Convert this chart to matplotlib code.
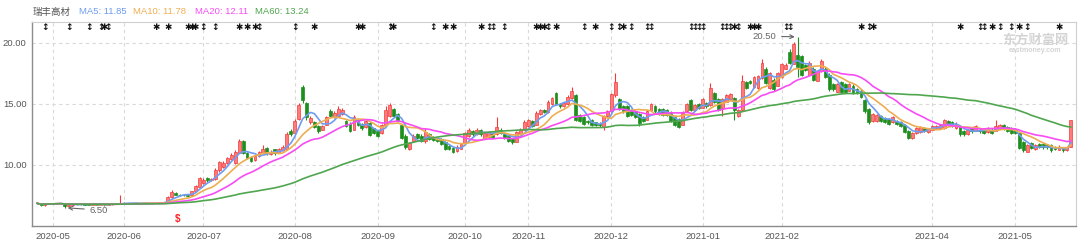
import numpy as np
import pandas as pd
import matplotlib
matplotlib.use("Agg")
import matplotlib.pyplot as plt
import matplotlib.transforms as mtransforms

plt.rcParams['font.family'] = ['Liberation Sans', 'Noto Sans CJK SC', 'DejaVu Sans']

STOCK_NAME = "瑞丰高材"
MA_WINDOWS = [5, 10, 20, 60]
MA_VALUES = ["11.85", "11.78", "12.11", "13.24"]
MA_COLORS = ['#6F9CF2', '#EDAE52', '#F74CF4', '#4FA64F']

HOLIDAYS = ['2020-05-01', '2020-05-04', '2020-05-05', '2020-06-25', '2020-06-26',
            '2020-10-01', '2020-10-02', '2020-10-05', '2020-10-06', '2020-10-07',
            '2020-10-08', '2021-01-01', '2021-02-11', '2021-02-12', '2021-02-15',
            '2021-02-16', '2021-02-17', '2021-04-05', '2021-05-03', '2021-05-04',
            '2021-05-05']

OPEN = [6.90, 6.86, 6.72, 6.82, 6.86, 6.84, 6.88, 6.84, 6.64, 6.72,
        6.80, 6.78, 6.82, 6.76, 6.74, 6.78, 6.74, 6.76, 6.72, 6.78,
        6.82, 6.86, 6.90, 6.86, 6.88, 6.86, 6.90, 6.88, 6.90, 6.86,
        6.88, 6.90, 6.92, 6.95, 7.38, 7.72, 7.58, 7.55, 7.50, 7.50,
        7.85, 8.20, 8.55, 8.90, 8.75, 8.85, 9.55, 9.85, 10.15, 10.50,
        10.20, 11.00, 11.95, 11.00, 10.65, 10.40, 10.70, 11.00, 11.40, 10.90,
        11.30, 11.00, 11.20, 11.30, 12.80, 12.60, 13.80, 16.40, 15.10, 13.55,
        13.50, 13.20, 12.90, 13.30, 14.40, 13.90, 14.00, 14.20, 13.60, 13.40,
        12.90, 13.70, 13.35, 13.10, 13.45, 13.00, 12.80, 12.60, 13.30, 14.00,
        14.60, 14.20, 13.30, 12.40, 11.30, 12.00, 12.50, 12.40, 12.00, 12.50,
        12.30, 12.15, 12.10, 11.90, 11.55, 11.40, 11.15, 11.35, 11.80, 12.40,
        12.80, 12.50, 12.90, 12.20, 12.30, 12.60, 12.50, 12.90, 12.50, 12.40,
        12.10, 11.90, 12.50, 12.90, 13.20, 13.60, 13.30, 14.20, 14.50, 14.35,
        15.00, 15.90, 15.00, 14.80, 15.00, 15.50, 15.70, 14.10, 13.95, 13.60,
        13.70, 13.50, 13.40, 13.10, 14.00, 14.40, 15.70, 15.40, 14.80, 14.80,
        14.50, 14.40, 14.20, 13.95, 13.70, 14.50, 14.80, 14.60, 14.60, 14.50,
        14.30, 13.90, 13.80, 13.30, 14.40, 15.30, 14.50, 15.00, 14.70, 15.10,
        14.90, 15.90, 15.40, 14.70, 15.20, 15.40, 15.45, 14.00, 14.50, 16.80,
        16.90, 16.40, 16.30, 17.10, 17.90, 16.30, 17.00, 16.50, 17.20, 17.90,
        19.30, 18.30, 19.00, 18.90, 18.20, 17.40, 17.90, 16.90, 17.70, 17.90,
        17.40, 16.60, 16.00, 16.80, 16.60, 16.10, 16.50, 16.20, 16.10, 15.30,
        14.60, 13.60, 13.60, 14.00, 13.80, 13.75, 13.50, 13.60, 13.50, 13.30,
        12.75, 12.20, 12.60, 12.70, 13.00, 12.70, 12.90, 13.00, 13.00, 13.00,
        13.60, 13.50, 13.00, 13.20, 12.80, 12.50, 13.00, 12.80, 12.90, 12.90,
        12.70, 12.90, 12.80, 13.00, 13.30, 13.10, 13.00, 12.90, 12.60, 11.90,
        11.10, 11.80, 11.30, 11.70, 11.70, 11.60, 11.60, 11.45, 11.25, 11.40,
        11.20, 11.50]

CLOSE = [6.86, 6.70, 6.82, 6.86, 6.84, 6.88, 6.85, 6.62, 6.72, 6.80,
         6.78, 6.82, 6.76, 6.74, 6.78, 6.74, 6.76, 6.72, 6.78, 6.82,
         6.86, 6.92, 6.86, 6.88, 6.86, 6.90, 6.88, 6.90, 6.86, 6.88,
         6.90, 6.92, 6.95, 7.35, 7.80, 7.58, 7.52, 7.50, 7.48, 7.85,
         8.25, 8.95, 8.80, 8.75, 8.85, 9.55, 10.25, 10.15, 10.55, 10.85,
         11.10, 12.00, 10.95, 10.60, 10.35, 10.75, 11.05, 11.30, 10.95, 11.10,
         10.95, 11.30, 11.50, 12.50, 12.55, 13.60, 14.90, 15.30, 13.90, 13.85,
         13.10, 12.80, 13.20, 13.90, 14.00, 14.30, 14.60, 14.50, 13.20, 12.80,
         13.95, 13.30, 13.00, 13.60, 12.45, 12.60, 12.40, 13.30, 14.50, 14.90,
         14.00, 13.60, 12.20, 11.50, 11.80, 12.40, 12.20, 12.00, 12.70, 12.15,
         12.05, 11.95, 11.75, 11.35, 11.30, 11.05, 11.50, 11.70, 12.60, 12.90,
         12.50, 12.90, 12.50, 12.60, 12.70, 12.30, 13.10, 12.60, 12.20, 11.95,
         11.85, 12.70, 12.90, 13.55, 13.70, 13.20, 14.30, 14.50, 14.35, 15.20,
         15.50, 15.00, 14.80, 15.10, 15.60, 16.10, 13.70, 13.60, 13.40, 13.50,
         13.30, 13.30, 13.25, 14.00, 14.40, 15.80, 16.80, 14.60, 14.40, 14.00,
         14.10, 13.95, 13.45, 13.60, 14.40, 15.00, 14.40, 14.20, 14.10, 14.10,
         13.60, 13.30, 13.15, 14.30, 15.00, 14.50, 14.90, 14.70, 15.40, 14.80,
         16.30, 15.20, 14.50, 15.40, 15.70, 15.80, 14.50, 14.50, 16.90, 16.30,
         16.70, 17.20, 17.30, 18.40, 16.70, 17.50, 16.20, 17.50, 18.30, 18.20,
         18.40, 19.90, 18.00, 17.40, 17.80, 18.40, 17.00, 17.70, 18.50, 17.20,
         16.20, 16.20, 16.60, 16.00, 16.00, 16.60, 15.90, 15.90, 15.60, 14.40,
         13.50, 14.20, 14.10, 13.60, 13.55, 13.40, 13.90, 13.35, 13.20, 12.70,
         12.20, 12.60, 13.00, 13.10, 12.80, 12.95, 13.20, 13.20, 13.25, 13.70,
         13.30, 13.20, 13.40, 12.50, 12.50, 12.85, 12.75, 13.20, 12.75, 12.60,
         13.00, 12.60, 13.20, 13.30, 13.00, 12.80, 12.60, 12.60, 11.40, 11.20,
         11.60, 11.40, 11.60, 11.50, 11.45, 11.45, 11.20, 11.35, 11.50, 11.20,
         11.45, 13.70]

HIGH = [6.93, 6.88, 6.85, 6.90, 6.90, 6.92, 6.90, 6.86, 6.76, 6.83,
        6.84, 6.85, 6.84, 6.79, 6.81, 6.80, 6.79, 6.78, 6.80, 6.85,
        6.89, 7.55, 6.95, 6.91, 6.90, 6.93, 6.92, 6.93, 6.92, 6.91,
        6.93, 6.95, 6.99, 7.42, 7.95, 7.78, 7.62, 7.60, 7.56, 7.90,
        8.35, 9.05, 8.95, 9.00, 8.95, 9.75, 10.35, 10.30, 10.65, 10.95,
        11.20, 12.15, 12.05, 11.10, 10.70, 10.85, 11.15, 11.60, 11.45, 11.20,
        11.35, 11.40, 11.60, 12.70, 12.95, 13.75, 15.10, 16.55, 15.20, 14.00,
        13.60, 13.30, 13.30, 14.05, 14.55, 14.40, 14.80, 14.65, 13.70, 13.50,
        14.10, 13.80, 13.45, 13.70, 13.50, 13.05, 12.85, 13.40, 14.80, 15.10,
        14.70, 14.30, 13.40, 12.50, 11.90, 12.50, 12.60, 12.50, 13.00, 12.60,
        12.40, 12.25, 12.20, 12.00, 11.65, 11.50, 11.60, 11.80, 12.70, 13.00,
        12.90, 13.00, 12.95, 12.70, 12.80, 12.70, 13.90, 13.00, 12.60, 12.45,
        12.20, 12.80, 13.00, 13.65, 13.80, 13.70, 14.40, 14.60, 14.60, 15.30,
        15.60, 16.00, 15.10, 15.20, 15.70, 16.40, 15.80, 14.20, 14.00, 13.70,
        13.75, 13.55, 13.50, 14.10, 14.50, 15.90, 17.50, 15.50, 14.90, 14.90,
        14.60, 14.50, 14.30, 14.00, 14.50, 15.10, 14.90, 14.70, 14.65, 14.60,
        14.40, 14.00, 13.85, 14.40, 15.10, 15.40, 15.00, 15.10, 15.50, 15.20,
        16.70, 16.00, 15.50, 15.50, 15.80, 15.90, 15.55, 14.60, 17.40, 16.90,
        17.00, 17.30, 17.40, 18.70, 18.00, 17.60, 17.10, 17.60, 18.40, 18.35,
        19.50, 20.10, 20.50, 19.00, 18.30, 18.50, 18.00, 17.80, 18.70, 18.00,
        17.50, 16.70, 16.70, 16.90, 16.70, 16.70, 16.60, 16.30, 16.20, 15.40,
        14.70, 14.30, 14.20, 14.10, 13.90, 13.85, 14.00, 13.70, 13.60, 13.40,
        12.85, 12.70, 13.10, 13.20, 13.10, 13.05, 13.30, 13.30, 13.35, 13.80,
        13.70, 13.60, 13.50, 13.30, 12.90, 12.95, 13.10, 13.30, 13.00, 13.00,
        13.10, 13.00, 13.70, 13.40, 13.40, 13.20, 13.10, 13.00, 12.70, 12.00,
        11.70, 11.90, 11.70, 11.80, 11.80, 11.70, 11.70, 11.55, 11.60, 11.50,
        11.55, 13.70]

LOW = [6.82, 6.62, 6.68, 6.78, 6.80, 6.80, 6.80, 6.50, 6.60, 6.68,
       6.74, 6.75, 6.72, 6.70, 6.71, 6.70, 6.71, 6.68, 6.70, 6.75,
       6.79, 6.84, 6.83, 6.83, 6.83, 6.84, 6.85, 6.85, 6.83, 6.84,
       6.85, 6.87, 6.89, 6.92, 7.30, 7.50, 7.45, 7.42, 7.40, 7.46,
       7.80, 8.15, 8.45, 8.60, 8.65, 8.80, 9.45, 9.75, 10.05, 10.40,
       10.10, 10.95, 10.90, 10.50, 10.25, 10.35, 10.65, 10.95, 10.85, 10.85,
       10.85, 10.95, 11.15, 11.25, 12.40, 12.55, 13.70, 15.10, 13.70, 13.40,
       13.00, 12.60, 12.85, 13.25, 13.90, 13.85, 13.95, 14.10, 13.10, 12.70,
       12.85, 13.20, 12.90, 13.05, 12.35, 12.50, 12.30, 12.55, 13.20, 13.95,
       13.90, 13.50, 12.10, 11.35, 11.20, 11.95, 12.10, 11.90, 11.80, 12.05,
       11.95, 11.85, 11.65, 11.25, 11.20, 10.95, 11.05, 11.30, 11.75, 12.30,
       12.40, 12.45, 12.40, 12.15, 12.25, 12.20, 12.45, 12.50, 12.10, 11.85,
       11.75, 11.85, 12.45, 12.85, 13.10, 13.10, 13.25, 14.10, 14.25, 14.30,
       14.90, 14.90, 14.70, 14.75, 14.95, 15.45, 13.60, 13.50, 13.30, 13.40,
       13.20, 13.20, 13.15, 12.90, 13.95, 14.35, 15.60, 14.50, 14.30, 13.90,
       14.00, 13.85, 13.20, 13.50, 13.65, 14.45, 14.30, 14.10, 14.00, 14.00,
       13.50, 13.20, 13.05, 13.25, 14.35, 14.40, 14.45, 14.60, 14.65, 14.70,
       14.85, 15.10, 14.40, 14.00, 15.15, 15.35, 13.70, 13.95, 14.45, 16.20,
       16.60, 16.35, 16.25, 17.05, 16.60, 16.25, 16.10, 16.45, 17.15, 17.85,
       18.30, 18.25, 17.20, 17.30, 17.70, 17.35, 16.90, 16.85, 17.65, 17.10,
       16.10, 16.10, 15.95, 15.90, 15.90, 16.05, 15.80, 15.80, 15.50, 14.30,
       13.40, 13.55, 13.55, 13.50, 13.45, 13.30, 13.45, 13.25, 13.10, 12.60,
       12.10, 12.15, 12.55, 12.65, 12.70, 12.65, 12.85, 12.95, 12.95, 12.95,
       13.20, 13.10, 12.95, 12.40, 12.40, 12.45, 12.65, 12.75, 12.65, 12.50,
       12.65, 12.50, 12.75, 12.95, 12.90, 12.70, 12.50, 12.50, 11.30, 11.10,
       11.05, 11.30, 11.25, 11.40, 11.35, 11.35, 11.10, 11.25, 11.20, 11.10,
       11.15, 11.45]

MONTH_TICKS = ["2020-05", "2020-06", "2020-07", "2020-08", "2020-09", "2020-10",
               "2020-11", "2020-12", "2021-01", "2021-02", "2021-04", "2021-05"]

# event markers along the top edge (trading day index)
STAR_IDX = [17, 30, 33, 38, 39, 40, 51, 53, 55, 70, 81, 82, 90, 103, 105, 112,
            126, 127, 128, 131, 141, 148, 176, 180, 181, 182, 208, 211, 233,
            241, 248, 258]
ARROW_IDX = [2, 8, 13, 16, 18, 42, 45, 56, 65, 89, 100, 114, 115, 118, 129,
             138, 145, 147, 150, 154, 155, 165, 166, 167, 168, 173, 174, 175,
             177, 189, 190, 210, 238, 239, 243, 246, 250]

HIGH_MARK = (192, 20.50)
LOW_MARK = (7, 6.50)

dates = pd.bdate_range('2020-04-27', '2021-05-26')
dates = dates[~dates.isin(pd.to_datetime(HOLIDAYS))]
n = len(dates)
idx = np.arange(n)

o = np.array(OPEN)
c = np.array(CLOSE)
h = np.array(HIGH)
l = np.array(LOW)

fig = plt.figure(figsize=(10.8, 2.41), dpi=100)
ax = fig.add_axes([32 / 1080, 15 / 241, 1044 / 1080, 204 / 241])

up = c >= o
body_face = np.where(up, '#FF7B7B', '#1E8F1E')
body_edge = np.where(up, '#F23A3A', '#1E8F1E')

ax.vlines(idx, l, h, colors=body_edge, lw=0.8, zorder=2)
ax.bar(idx, np.maximum(np.abs(c - o), 0.03), bottom=np.minimum(o, c), width=0.72,
       color=body_face, edgecolor=body_edge, lw=0.5, zorder=3)

close_s = pd.Series(c)
for w, col in zip(MA_WINDOWS, MA_COLORS):
    ax.plot(idx, close_s.rolling(w, min_periods=1).mean(), color=col, lw=1.2, zorder=4)

ax.set_xlim(-1.3, n + 0.3)
ax.set_ylim(5.0, 21.72)

tick_pos = [int(np.searchsorted(dates, pd.Timestamp(m + '-01'))) for m in MONTH_TICKS]
ax.set_xticks(tick_pos)
ax.set_xticklabels(MONTH_TICKS)
ax.set_yticks([10, 15, 20])
ax.set_yticklabels(['10.00', '15.00', '20.00'])
ax.tick_params(length=0, labelsize=6.8, colors='#555555', pad=4)
ax.grid(True, ls=(0, (3, 3)), color='#d9d9d9', lw=0.8)
ax.set_axisbelow(True)

for side in ['top', 'right']:
    ax.spines[side].set_color('#cfcfcf')
    ax.spines[side].set_linewidth(0.8)
for side in ['left', 'bottom']:
    ax.spines[side].set_color('#8c8c8c')
    ax.spines[side].set_linewidth(1.0)

# event markers at top
trans = mtransforms.blended_transform_factory(ax.transData, ax.transAxes)
for i in STAR_IDX:
    ax.text(i, 0.975, '✱', transform=trans, ha='center', va='center',
            fontsize=6.3, color='#111111', family=['DejaVu Sans'])
for i in ARROW_IDX:
    ax.text(i, 0.975, '↕', transform=trans, ha='center', va='center',
            fontsize=6.5, fontweight='bold', color='#111111', family=['DejaVu Sans'])

# red marker under the chart
ax.text(35.5, 5.6, '$', ha='center', va='center', fontsize=7, color='#ff2020',
        fontweight='bold')

# high / low annotations
ax.annotate('20.50', xy=HIGH_MARK, xytext=(183.6, 20.57), ha='center', va='center',
            fontsize=6.8, color='#666666',
            arrowprops=dict(arrowstyle='->', color='#666666', lw=0.8))
ax.annotate('6.50', xy=LOW_MARK, xytext=(15.6, 6.31), ha='center', va='center',
            fontsize=6.8, color='#666666',
            arrowprops=dict(arrowstyle='->', color='#666666', lw=0.8))

# watermark
fig.text(1035 / 1080, 1 - 40 / 241, '东方财富网', ha='center', va='center',
         fontsize=9.5, color='#d4d4d4', fontweight='bold', family=['Noto Sans CJK SC'])
fig.text(1035 / 1080, 1 - 50 / 241, 'eastmoney.com', ha='center', va='center',
         fontsize=5, color='#d4d4d4', fontweight='bold')

# header
fig.text(33 / 1080, 1 - 12 / 241, STOCK_NAME, ha='left', va='center',
         fontsize=6.8, color='#555555')
head_x = [79, 133, 195, 255]
for x, w, v, col in zip(head_x, MA_WINDOWS, MA_VALUES, MA_COLORS):
    fig.text(x / 1080, 1 - 12 / 241, f'MA{w}: {v}', ha='left', va='center',
             fontsize=6.8, color=col)

fig.savefig('out.png', dpi=100)
